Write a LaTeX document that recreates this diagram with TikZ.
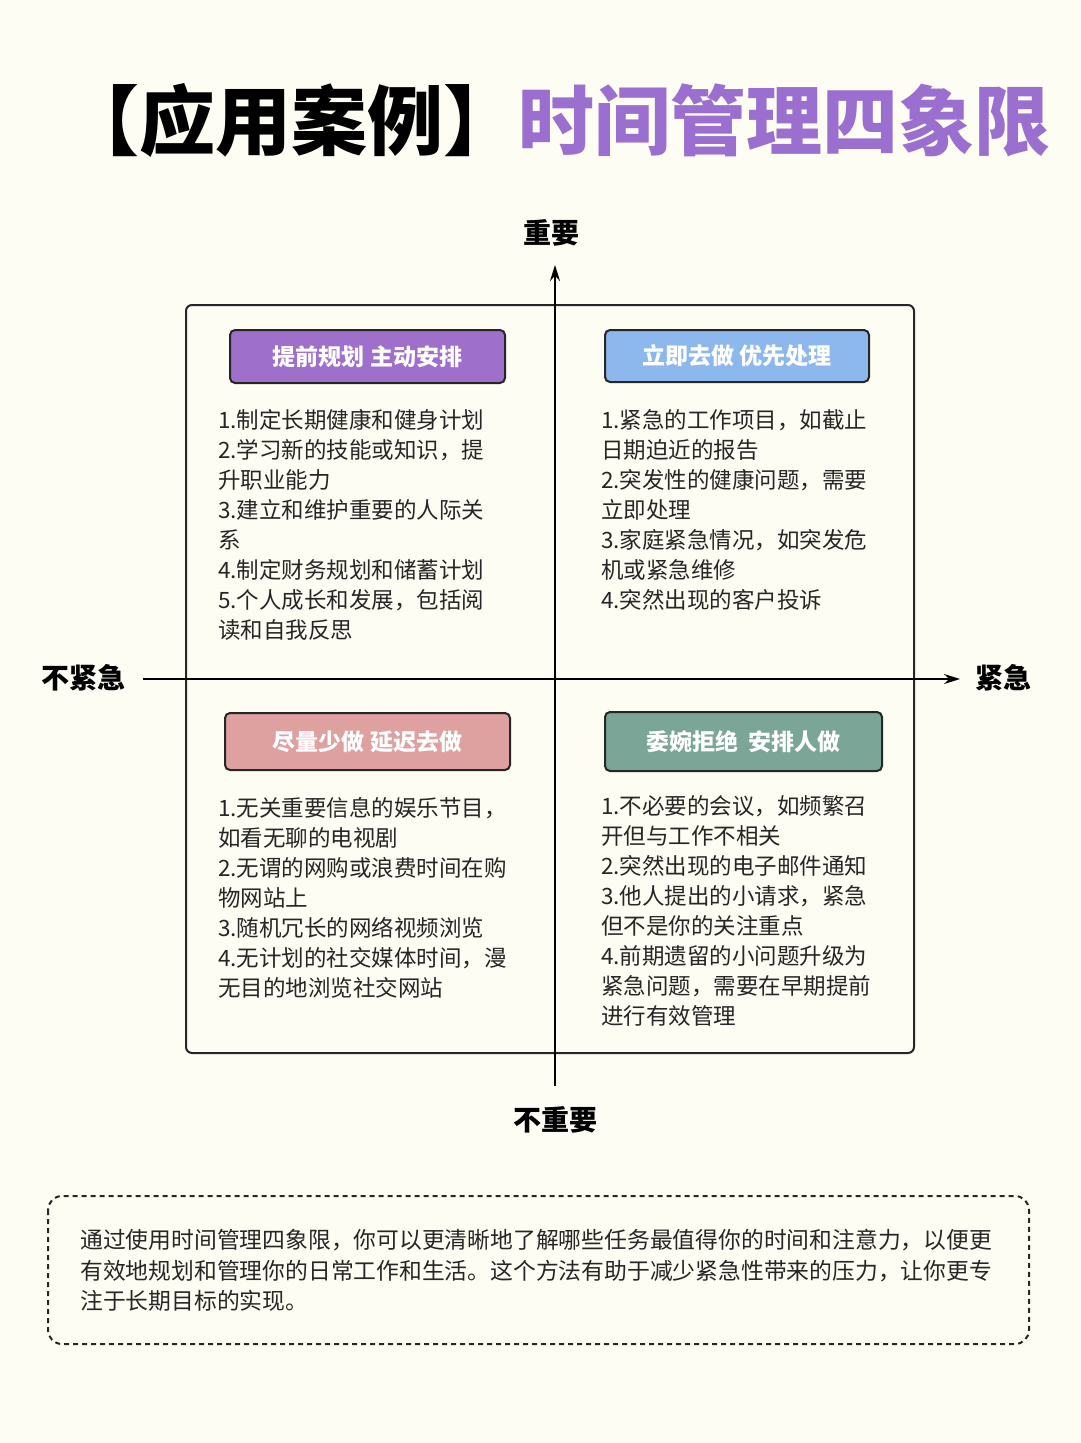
\documentclass[tikz,border=0pt]{standalone}
\usepackage{fontspec}
\setmainfont{Noto Sans CJK SC}
\usetikzlibrary{arrows.meta}
\definecolor{bg}{HTML}{FEFDF3}
\definecolor{cpur}{HTML}{9E70CC}
\definecolor{cblue}{HTML}{8DB8EE}
\definecolor{cpink}{HTML}{DFA0A0}
\definecolor{cgreen}{HTML}{7BA597}
\definecolor{tpur}{HTML}{9B6FD0}
\begin{document}
\begin{tikzpicture}[x=1pt,y=-1pt,
  hdr/.style={draw=black!85,line width=2pt,rounded corners=5pt,text=white,font=\fontsize{23}{27}\selectfont\bfseries,inner sep=0pt},
  lst/.style={anchor=north west,inner sep=0pt,align=left,font=\fontsize{22.5}{30}\selectfont,text=black!85},
  axlab/.style={font=\fontsize{28}{32}\selectfont\bfseries},
  ax/.style={line width=1.6pt,-{Stealth[length=16pt,width=10pt]}}]
\fill[bg] (0,0) rectangle (1080,1443);
\useasboundingbox (0,0) rectangle (1080,1443);
\node[font=\fontsize{76}{82}\selectfont\bfseries,inner sep=0pt] (title) at (557,120) {【应用案例】\textcolor{tpur}{时间管理四象限}};
\draw[line width=2pt,black!85,rounded corners=6pt] (186,305) rectangle (914,1053);
\coordinate (vb) at (555,1086);
\coordinate (vt) at (555,265);
\coordinate (hl) at (143,679);
\coordinate (hr) at (960,679);
\draw[ax] (vb) -- (vt);
\draw[ax] (hl) -- (hr);
\node[axlab] (top) at (551,233) {重要};
\node[axlab] (bot) at (555,1120) {不重要};
\node[axlab] (lft) at (83,678) {不紧急};
\node[axlab] (rgt) at (1003,678) {紧急};
\node[hdr,fill=cpur,minimum width=275pt,minimum height=53pt] (h1) at (367.5,356.5) {提前规划 主动安排};
\node[hdr,fill=cblue,minimum width=264pt,minimum height=52pt] (h2) at (737,356) {立即去做 优先处理};
\node[hdr,fill=cpink,minimum width=285pt,minimum height=57pt] (h3) at (367.5,741.5) {尽量少做 延迟去做};
\node[hdr,fill=cgreen,minimum width=277pt,minimum height=59pt] (h4) at (743.5,741.5) {委婉拒绝\ \ 安排人做};
\node[lst] (l1) at (218,409) {1.制定长期健康和健身计划\\2.学习新的技能或知识，提\\升职业能力\\3.建立和维护重要的人际关\\系\\4.制定财务规划和储蓄计划\\5.个人成长和发展，包括阅\\读和自我反思};
\node[lst] (l2) at (601,409) {1.紧急的工作项目，如截止\\日期迫近的报告\\2.突发性的健康问题，需要\\立即处理\\3.家庭紧急情况，如突发危\\机或紧急维修\\4.突然出现的客户投诉};
\node[lst] (l3) at (218,797) {1.无关重要信息的娱乐节目，\\如看无聊的电视剧\\2.无谓的网购或浪费时间在购\\物网站上\\3.随机冗长的网络视频浏览\\4.无计划的社交媒体时间，漫\\无目的地浏览社交网站};
\node[lst] (l4) at (601,795) {1.不必要的会议，如频繁召\\开但与工作不相关\\2.突然出现的电子邮件通知\\3.他人提出的小请求，紧急\\但不是你的关注重点\\4.前期遗留的小问题升级为\\紧急问题，需要在早期提前\\进行有效管理};
\draw[line width=2pt,black!85,dashed,dash pattern=on 5pt off 4pt,rounded corners=14pt] (48,1196) rectangle (1029,1344);
\node[lst,font=\fontsize{22.8}{30.5}\selectfont] (note) at (80,1229) {通过使用时间管理四象限，你可以更清晰地了解哪些任务最值得你的时间和注意力，以便更\\有效地规划和管理你的日常工作和生活。这个方法有助于减少紧急性带来的压力，让你更专\\注于长期目标的实现。};
\end{tikzpicture}
\end{document}
